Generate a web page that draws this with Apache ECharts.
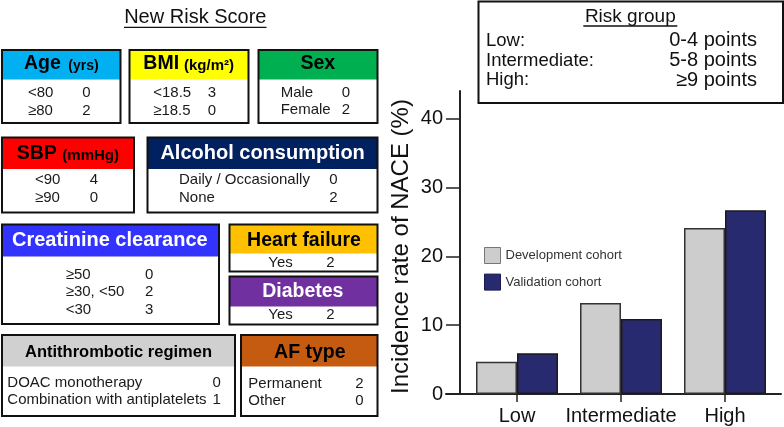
<!DOCTYPE html>
<html><head><meta charset="utf-8">
<script src="https://cdn.jsdelivr.net/npm/echarts@6/dist/echarts.min.js"></script>
<style>html,body{margin:0;padding:0;background:#fff}#c{width:784px;height:427px}</style>
</head><body><div id="c"></div>
<script>
// ---- chart data ----
const categories = ['Low', 'Intermediate', 'High'];
const developmentCohort = [4.7, 13.2, 24.1];
const validationCohort = [5.9, 10.9, 26.7];
const yTicks = [0, 10, 20, 30, 40];
const seriesNames = ['Development cohort', 'Validation cohort'];
const yAxisName = 'Incidence rate of NACE (%)';
// ---- risk group box ----
const riskGroupTitle = 'Risk group';
const riskGroupLabels = ['Low:', 'Intermediate:', 'High:'];
const riskGroupPoints = ['0-4 points', '5-8 points', '≥9 points'];
// ---- score table ----
const scoreTitle = 'New Risk Score';
const factorNames = ['Age', 'BMI', 'Sex', 'SBP', 'Alcohol consumption', 'Creatinine clearance', 'Heart failure', 'Diabetes', 'Antithrombotic regimen', 'AF type'];
const factorUnits = ['(yrs)', '(kg/m²)', '', '(mmHg)', '', '', '', '', '', ''];
const factorItems = [['<80', '≥80'], ['<18.5', '≥18.5'], ['Male', 'Female'], ['<90', '≥90'], ['Daily / Occasionally', 'None'], ['≥50', '≥30, <50', '<30'], ['Yes'], ['Yes'], ['DOAC monotherapy', 'Combination with antiplatelets'], ['Permanent', 'Other']];
const factorPoints = [[0, 2], [3, 0], [0, 2], [4, 0], [0, 2], [0, 2, 3], [2], [2], [0, 1], [2, 0]];

// ---- layout / styles (not data) ----
const FONT = '"Liberation Sans", Arial, Helvetica, sans-serif';
const boxLayout = [
  {x0: 2, y0: 50, x1: 120.5, y1: 123, hb: 79.5, fill: '#00b0f0', tc: '#000', t: {nx: 24, ux: 68.3, cy: 64, s: 19.5, us: 14}, ix: 28, px: 86.5, rows: [93.3, 111]},
  {x0: 129.5, y0: 50, x1: 248.5, y1: 123, hb: 79.5, fill: '#ffff00', tc: '#000', t: {nx: 143.3, ux: 184, cy: 64, s: 19.5, us: 15}, ix: 153.2, px: 212, rows: [93.3, 111]},
  {x0: 258.5, y0: 50, x1: 377.5, y1: 123, hb: 79.5, fill: '#00b050', tc: '#000', t: {cx: 317.8, cy: 64, s: 19.5}, ix: 280.7, px: 346, rows: [92.8, 110.3]},
  {x0: 2, y0: 137.5, x1: 134, y1: 212.5, hb: 169, fill: '#ff0000', tc: '#000', t: {nx: 16.7, ux: 62.3, cy: 154, s: 19.5, us: 15}, ix: 35, px: 94, rows: [180.3, 197.5]},
  {x0: 147.5, y0: 137.5, x1: 377.5, y1: 212.5, hb: 169, fill: '#002060', tc: '#fff', t: {cx: 262.6, cy: 153.5, s: 20}, ix: 179, px: 333.5, rows: [180.3, 197.5]},
  {x0: 2, y0: 224.5, x1: 219, y1: 324, hb: 256.5, fill: '#3333ff', tc: '#fff', t: {cx: 109.8, cy: 240, s: 20}, ix: 65.7, px: 149.2, rows: [275, 292.2, 309.7]},
  {x0: 229.5, y0: 224.5, x1: 377.5, y1: 271.5, hb: 253.5, fill: '#ffc000', tc: '#000', t: {cx: 304, cy: 240.3, s: 19.5}, ix: 268.3, px: 330.3, rows: [263]},
  {x0: 229.5, y0: 276.5, x1: 377.5, y1: 324.5, hb: 306.5, fill: '#7030a0', tc: '#fff', t: {cx: 302.8, cy: 292, s: 19.5}, ix: 268.3, px: 330.3, rows: [315]},
  {x0: 2, y0: 335, x1: 235, y1: 416, hb: 366.5, fill: '#d0d0d0', tc: '#000', t: {cx: 118.5, cy: 352.7, s: 16.5}, ix: 7.3, px: 216.7, rows: [382.5, 400]},
  {x0: 241, y0: 335, x1: 377.5, y1: 416, hb: 366.5, fill: '#c55a11', tc: '#000', t: {cx: 309.8, cy: 352.7, s: 19.5}, ix: 248.3, px: 359.5, rows: [383.5, 401]}
];

const graphics = [];
function txt(x, y, text, size, weight, color, align, z) {
  graphics.push({type: 'text', x: x, y: y, z: z || 20, silent: true,
    style: {text: text, fontSize: size, fontWeight: weight, fontFamily: FONT, fill: color,
      align: align, verticalAlign: 'middle', textAlign: align, textVerticalAlign: 'middle'}});
}
function rect(x, y, w, h, fill, stroke, lw, z) {
  graphics.push({type: 'rect', z: z, silent: true, shape: {x: x, y: y, width: w, height: h},
    style: {fill: fill, stroke: stroke, lineWidth: lw}});
}
function line(x1, y1, x2, y2, lw, z) {
  graphics.push({type: 'line', z: z || 20, silent: true, shape: {x1: x1, y1: y1, x2: x2, y2: y2},
    style: {stroke: '#111', lineWidth: lw}});
}
const bodyColor = '#1a1a1a';
const mid = 0.3465;
// title
txt(195.3, 17.7, scoreTitle, 20, 'normal', '#111', 'center');
line(124, 27.3, 266.5, 27.3, 1.3);
// boxes
boxLayout.forEach(function (b, i) {
  rect(b.x0, b.y0, b.x1 - b.x0, b.hb - b.y0, b.fill, null, 0, 5);
  rect(b.x0, b.y0, b.x1 - b.x0, b.y1 - b.y0, 'none', '#111', 2, 10);
  const t = b.t;
  if (t.nx != null) {
    txt(t.nx, t.cy, factorNames[i], t.s, 'bold', b.tc, 'left');
    const baseline = t.cy + mid * t.s;
    txt(t.ux, baseline - mid * t.us, factorUnits[i], t.us, 'bold', b.tc, 'left');
  } else {
    txt(t.cx, t.cy, factorNames[i], t.s, 'bold', b.tc, 'center');
  }
  factorItems[i].forEach(function (it, k) {
    txt(b.ix, b.rows[k], it, 15, 'normal', bodyColor, 'left');
    txt(b.px, b.rows[k], String(factorPoints[i][k]), 15, 'normal', bodyColor, 'center');
  });
});
// risk group box
rect(478.5, 1.5, 304.5, 101.5, 'none', '#111', 2, 10);
txt(630.3, 16.7, riskGroupTitle, 19, 'normal', '#111', 'center');
line(583.3, 26, 677.3, 26, 1.3);
const rgRows = [40.8, 60.5, 80.2];
riskGroupLabels.forEach(function (l, k) {
  txt(486, rgRows[k], l, 18.5, 'normal', '#111', 'left');
  txt(757, rgRows[k], riskGroupPoints[k], 20, 'normal', '#111', 'right');
});

const axisColor = '#222';
const option = {
  animation: false,
  backgroundColor: '#fff',
  textStyle: {fontFamily: FONT},
  grid: [
    {left: 465, right: 7, top: 91, bottom: 33, outerBoundsMode: 'none', containLabel: false},
    {left: 446, right: 3, top: 91, bottom: 33, outerBoundsMode: 'none', containLabel: false}
  ],
  legend: {
    orient: 'vertical', left: 484, top: 247, itemWidth: 16, itemHeight: 16, padding: 0,
    icon: 'rect', itemGap: 9.6,
    textStyle: {fontSize: 13, color: '#333', fontFamily: FONT},
    data: [
      {name: seriesNames[0], itemStyle: {borderColor: '#777', borderWidth: 1}},
      {name: seriesNames[1], itemStyle: {borderColor: '#1a1a50', borderWidth: 1}}
    ]
  },
  xAxis: [
    {type: 'category', gridIndex: 0, data: categories,
      axisLine: {show: false},
      axisTick: {show: true, alignWithLabel: true, length: 8, lineStyle: {color: axisColor, width: 1.5}},
      axisLabel: {fontSize: 20, color: '#111', margin: 12, fontFamily: FONT, interval: 0, hideOverlap: false},
      splitLine: {show: false}},
    {type: 'value', gridIndex: 1, min: 0, max: 1,
      axisLine: {show: true, onZero: false, lineStyle: {color: axisColor, width: 2}},
      axisTick: {show: false}, axisLabel: {show: false}, splitLine: {show: false}}
  ],
  yAxis: [
    {type: 'value', gridIndex: 0, min: 0, max: 44, interval: 10, offset: 5,
      axisLine: {show: true, lineStyle: {color: axisColor, width: 2}},
      axisTick: {show: true, length: 14, customValues: yTicks, lineStyle: {color: axisColor, width: 1.5}},
      axisLabel: {customValues: yTicks, fontSize: 20, color: '#111', margin: 17, fontFamily: FONT},
      splitLine: {show: false},
      name: yAxisName, nameLocation: 'middle', nameGap: 47,
      nameTextStyle: {fontSize: 24, color: '#111', padding: [0, 8, 0, 0], fontFamily: FONT}},
    {type: 'value', gridIndex: 1, show: false, min: 0, max: 1}
  ],
  series: [
    {name: seriesNames[0], type: 'bar', xAxisIndex: 0, yAxisIndex: 0, data: developmentCohort,
      barWidth: 41, barGap: '0%',
      itemStyle: {color: '#cdcdcd', borderColor: '#333', borderWidth: 1.5}},
    {name: seriesNames[1], type: 'bar', xAxisIndex: 0, yAxisIndex: 0, data: validationCohort,
      barWidth: 41, barGap: '0%',
      itemStyle: {color: '#282a70', borderColor: '#1a1a1a', borderWidth: 1.5}}
  ],
  graphic: {elements: graphics}
};
const chart = echarts.init(document.getElementById('c'), null, {renderer: 'canvas'});
chart.setOption(option);
</script>
</body></html>
